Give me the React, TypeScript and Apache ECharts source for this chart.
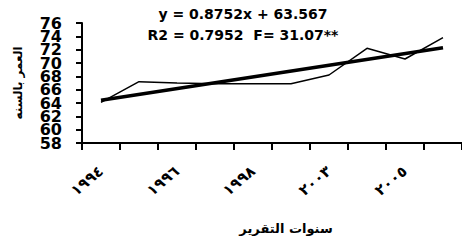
import React, { useEffect, useRef } from "react";
import * as echarts from "echarts";

const years = ["١٩٩٤", "١٩٩٥", "١٩٩٦", "١٩٩٧", "١٩٩٨", "٢٠٠٠", "٢٠٠٣", "٢٠٠٤", "٢٠٠٥", "٢٠٠٦"];
const lifeExpectancy = [64.1, 67.2, 67.0, 66.9, 66.9, 66.9, 68.2, 72.2, 70.6, 73.8];
const trendStart = 64.4;
const trendEnd = 72.3;
const yTickLabels = ["58", "60", "62", "64", "66", "68", "70", "72", "74", "76"];
const equationText = "y = 0.8752x + 63.567";
const statsText = "R2 = 0.7952  F= 31.07**";
const yAxisTitle = "العمر بالسنه";
const xAxisTitle = "سنوات التقرير";

export default function App() {
  const ref = useRef<HTMLDivElement>(null);
  useEffect(() => {
    if (!ref.current) return;
    const chart = echarts.init(ref.current, null, { renderer: "svg" });
    const trend = years.map((_, i) =>
      i === 0 ? trendStart : i === years.length - 1 ? trendEnd : null
    );
    const yMin = Number(yTickLabels[0]);
    const yMax = Number(yTickLabels[yTickLabels.length - 1]);
    chart.setOption({
      animation: false,
      backgroundColor: "#fff",
      grid: { left: 82, right: 0, top: 23, bottom: 99, containLabel: false },
      xAxis: {
        type: "category",
        data: years,
        boundaryGap: true,
        axisLine: { lineStyle: { color: "#000", width: 2 } },
        axisTick: { show: true, length: 7, lineStyle: { color: "#000", width: 2 }, interval: 0 },
        axisLabel: {
          interval: 1,
          rotate: 40,
          margin: 26,
          color: "#000",
          fontFamily: "DejaVu Sans",
          fontWeight: "bold",
          fontSize: 15,
        },
      },
      yAxis: [
        {
          type: "value",
          min: yMin,
          max: yMax,
          interval: 2,
          name: yAxisTitle,
          nameLocation: "middle",
          nameRotate: 90,
          nameGap: 58,
          nameTextStyle: { color: "#000", fontFamily: "DejaVu Sans", fontWeight: "bold", fontSize: 12 },
          splitLine: { show: false },
          axisLine: { show: true, lineStyle: { color: "#000", width: 2 } },
          axisTick: { show: true, length: 6, lineStyle: { color: "#000", width: 2 } },
          axisLabel: { show: false },
        },
        {
          type: "category",
          data: yTickLabels,
          boundaryGap: false,
          position: "left",
          offset: 0,
          axisLine: { show: false },
          axisTick: { show: false },
          splitLine: { show: false },
          axisLabel: {
            interval: 0,
            margin: 20,
            color: "#000",
            fontFamily: "DejaVu Sans",
            fontWeight: "bold",
            fontSize: 16,
            lineHeight: 13,
          },
        },
      ],
      graphic: [
        {
          type: "text",
          x: 243,
          y: 14,
          style: {
            text: equationText,
            fill: "#000",
            font: "bold 14px 'DejaVu Sans'",
            textAlign: "center",
            textVerticalAlign: "middle",
          },
        },
        {
          type: "text",
          x: 243,
          y: 35,
          style: {
            text: statsText,
            fill: "#000",
            font: "bold 14px 'DejaVu Sans'",
            textAlign: "center",
            textVerticalAlign: "middle",
          },
        },
        {
          type: "text",
          x: 286,
          y: 228,
          style: {
            text: xAxisTitle,
            fill: "#000",
            font: "bold 13px 'DejaVu Sans'",
            textAlign: "center",
            textVerticalAlign: "middle",
          },
        },
      ],
      series: [
        {
          type: "line",
          yAxisIndex: 0,
          data: lifeExpectancy,
          symbol: "none",
          lineStyle: { color: "#000", width: 1.5 },
        },
        {
          type: "line",
          yAxisIndex: 0,
          data: trend,
          connectNulls: true,
          symbol: "none",
          lineStyle: { color: "#000", width: 3.5 },
        },
      ],
    });
    return () => chart.dispose();
  }, []);
  return <div ref={ref} style={{ width: 462, height: 242, position: "absolute", left: 0, top: 0 }} />;
}
